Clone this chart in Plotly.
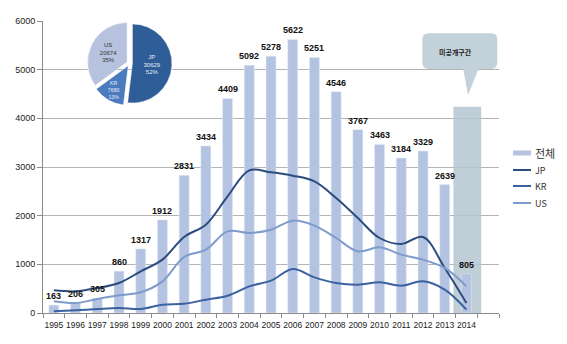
import plotly.graph_objects as go

years = [str(y) for y in range(1995, 2015)]
total = [163, 206, 305, 860, 1317, 1912, 2831, 3434, 4409, 5092, 5278, 5622, 5251, 4546, 3767, 3463, 3184, 3329, 2639, 805]
jp = [466, 445, 514, 616, 856, 1096, 1562, 1815, 2397, 2932, 2890, 2822, 2705, 2363, 1952, 1541, 1418, 1562, 925, 205]
kr = [34, 55, 82, 103, 82, 171, 192, 274, 356, 548, 664, 904, 733, 616, 582, 630, 562, 650, 479, 68]
us = [240, 205, 288, 363, 425, 650, 1150, 1300, 1678, 1644, 1712, 1897, 1795, 1541, 1267, 1349, 1199, 1096, 925, 548]

pie_labels = ["JP", "KR", "US"]
pie_values = [30629, 7680, 20674]

legend_names = ["전체", "JP", "KR", "US"]

xs = list(range(len(years)))
FONT = "Liberation Sans, Arial, sans-serif"
KFONT = "Noto Sans CJK KR, sans-serif"

BAR_COL = "#b4c3e1"
line_cols = {"JP": "#2c4c7e", "KR": "#3a62a0", "US": "#7d9bcb"}

fig = go.Figure()
fig.add_trace(go.Bar(
    x=xs, y=total, name="전체", marker_color=BAR_COL, width=0.46,
    hoverinfo="y",
))

for name, vals in (("JP", jp), ("KR", kr), ("US", us)):
    fig.add_trace(go.Scatter(
        x=xs, y=vals, name=name, mode="lines",
        line=dict(color=line_cols[name], width=2, shape="spline", smoothing=1.0),
    ))

fig.add_trace(go.Pie(
    labels=pie_labels, values=pie_values, sort=False, direction="clockwise", rotation=0,
    domain=dict(x=[0.015, 0.365], y=[0.71, 1.0]),
    marker=dict(colors=["#2f5d98", "#4a7bbf", "#b7c3de"], line=dict(color="#ffffff", width=0.5)),
    pull=[0.07, 0.07, 0.07],
    texttemplate="%{label}<br>%{value:.0f}<br>%{percent:.0%}",
    textposition="inside", insidetextorientation="horizontal",
    insidetextfont=dict(family=FONT, size=6, color=["#e8ecf5", "#e8ecf5", "#333333"]),
    showlegend=False, hoverinfo="skip",
))

annotations = []
for x, v in zip(xs, total):
    annotations.append(dict(x=x, y=v, xref="x", yref="y", text=f"<b>{v}</b>", showarrow=False,
                            yanchor="bottom", yshift=2,
                            font=dict(family=FONT, size=9, color="#111111")))
annotations.append(dict(x=18.5, y=5370, xref="x", yref="y", text="<b>미공개구간</b>", showarrow=False,
                        font=dict(family=KFONT, size=7, color="#222222")))

shapes = [
    dict(type="rect", xref="paper", yref="paper", x0=0.011, x1=0.37, y0=0.71, y1=1.0,
         fillcolor="white", line=dict(width=0), layer="between"),
    dict(type="rect", xref="x", yref="y", x0=18.4, x1=19.68, y0=0, y1=4240,
         fillcolor="rgba(180,198,208,0.85)", line=dict(width=0), layer="between"),
    dict(type="path", xref="x", yref="y",
         path="M 17.25 5750 L 20.15 5750 Q 20.42 5750 20.42 5620 L 20.42 5150 Q 20.42 5013 20.15 5013 "
              "L 19.55 5013 L 19.08 4480 L 18.85 5013 L 17.25 5013 Q 16.97 5013 16.97 5150 L 16.97 5620 "
              "Q 16.97 5750 17.25 5750 Z",
         fillcolor="#c3d2da", line=dict(width=0), layer="above"),
]

# manual legend (pixel positions converted to paper coords)
PL, PW, PT, PH = 43, 456, 21, 292
def px(xp):
    return (xp - PL) / PW
def py(yp):
    return 1 - (yp - PT) / PH

leg_y = [153, 170, 186, 203]
for i, name in enumerate(legend_names):
    yy = leg_y[i]
    if i == 0:
        shapes.append(dict(type="rect", xref="paper", yref="paper", x0=px(513), x1=px(531),
                           y0=py(yy + 2.5), y1=py(yy - 2.5), fillcolor=BAR_COL, line=dict(width=0)))
        fsize = 11
    else:
        shapes.append(dict(type="line", xref="paper", yref="paper", x0=px(513), x1=px(531),
                           y0=py(yy), y1=py(yy), line=dict(color=line_cols[name], width=2)))
        fsize = 9
    annotations.append(dict(x=px(533), y=py(yy), xref="paper", yref="paper", text=name,
                            showarrow=False, xanchor="left", yanchor="middle",
                            font=dict(family=KFONT, size=fsize, color="#333333")))

fig.update_layout(
    width=567, height=344, autosize=False,
    margin=dict(l=43, r=68, t=21, b=31),
    paper_bgcolor="white", plot_bgcolor="white",
    shapes=shapes,
    annotations=annotations,
    showlegend=False,
)
fig.update_xaxes(
    range=[-0.5, 20.5], tickmode="array", tickvals=xs, ticktext=years, ticks="", tickangle=0,
    tickfont=dict(family=FONT, size=8.5, color="#222222"), ticklabelstandoff=4,
    showline=True, linecolor="#8c8c8c", linewidth=1, showgrid=False, zeroline=False,
    minor=dict(tickmode="array", tickvals=[i - 0.5 for i in range(22)], ticks="outside",
               ticklen=4, tickcolor="#8c8c8c", showgrid=False),
)
fig.update_yaxes(
    range=[0, 6000], dtick=1000, ticks="outside", ticklen=5, tickcolor="#8c8c8c",
    tickfont=dict(family=FONT, size=9, color="#222222"),
    showline=True, linecolor="#8c8c8c", linewidth=1,
    showgrid=True, gridcolor="#b4b4b4", gridwidth=1, zeroline=False,
)

fig.write_html("out.html")
